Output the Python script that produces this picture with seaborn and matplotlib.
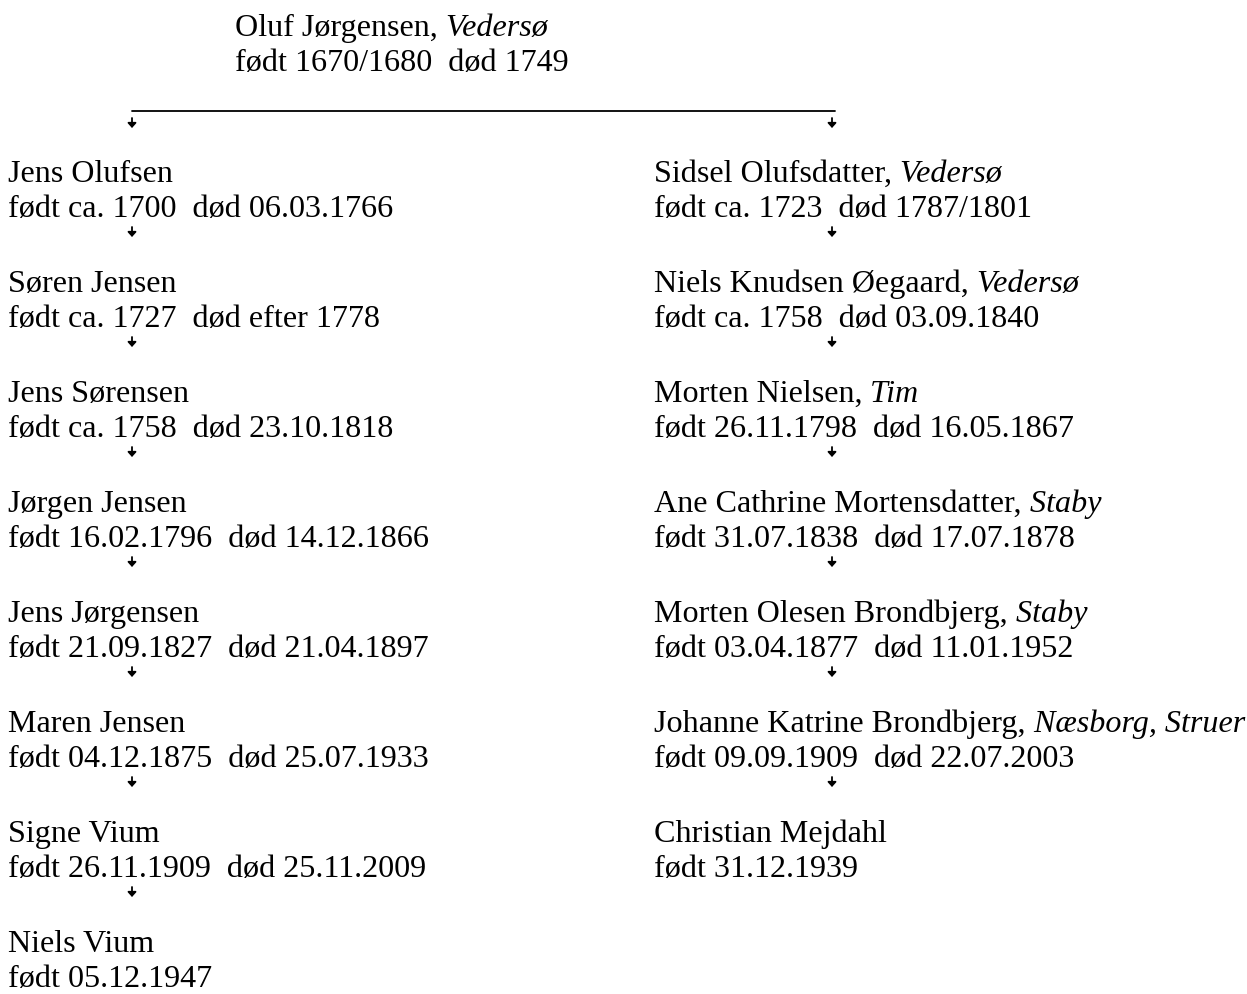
import matplotlib
matplotlib.use("Agg")
import matplotlib.pyplot as plt
import seaborn as sns
import pandas as pd

# ---- data ----
root_name = "Oluf Jørgensen"
root_place = "Vedersø"
root_dates = "født 1670/1680  død 1749"

left_names = ["Jens Olufsen", "Søren Jensen", "Jens Sørensen", "Jørgen Jensen",
              "Jens Jørgensen", "Maren Jensen", "Signe Vium", "Niels Vium"]
left_places = ["", "", "", "", "", "", "", ""]
left_dates = ["født ca. 1700  død 06.03.1766", "født ca. 1727  død efter 1778",
              "født ca. 1758  død 23.10.1818", "født 16.02.1796  død 14.12.1866",
              "født 21.09.1827  død 21.04.1897", "født 04.12.1875  død 25.07.1933",
              "født 26.11.1909  død 25.11.2009", "født 05.12.1947"]

right_names = ["Sidsel Olufsdatter", "Niels Knudsen Øegaard", "Morten Nielsen",
               "Ane Cathrine Mortensdatter", "Morten Olesen Brondbjerg",
               "Johanne Katrine Brondbjerg", "Christian Mejdahl"]
right_places = ["Vedersø", "Vedersø", "Tim", "Staby", "Staby", "Næsborg, Struer", ""]
right_dates = ["født ca. 1723  død 1787/1801", "født ca. 1758  død 03.09.1840",
               "født 26.11.1798  død 16.05.1867", "født 31.07.1838  død 17.07.1878",
               "født 03.04.1877  død 11.01.1952", "født 09.09.1909  død 22.07.2003",
               "født 31.12.1939"]

# ---- layout (pixel units) ----
W, H = 1247, 995
FS = 23.1
ROOT_X, ROOT_Y = 235, 36
LINE_GAP = 35
COL_X = [8, 654]
ARROW_X = [132, 832]
ROW0 = 182
ROW_STEP = 110.0
BAR_Y = 112
ARROW_LEN = 10

sns.set_theme(style="white")
plt.rcParams["font.family"] = ["Liberation Serif", "DejaVu Serif"]

fig = plt.figure(figsize=(W / 100, H / 100), dpi=100)
ax = fig.add_axes([0, 0, 1, 1])


def entry(x, y, name, place, dates):
    t = ax.text(x, y, name + ("," if place else ""), fontsize=FS, va="baseline",
                ha="left", color="black")
    if place:
        ax.annotate(" " + place, xy=(1, y), xycoords=(t, "data"), fontsize=FS,
                    fontstyle="italic", va="baseline", ha="left", color="black")
    ax.text(x, y + LINE_GAP, dates, fontsize=FS, va="baseline", ha="left",
            color="black")


def arrow(x, ytop):
    ax.annotate("", xy=(x, ytop + ARROW_LEN), xytext=(x, ytop),
                arrowprops=dict(arrowstyle="-|>,head_length=0.2,head_width=0.18",
                                color="black", lw=1.3, mutation_scale=14,
                                shrinkA=0, shrinkB=0))


bar = pd.DataFrame({"x": [ARROW_X[0], ARROW_X[1] + 3], "y": [BAR_Y, BAR_Y]})
sns.lineplot(data=bar, x="x", y="y", ax=ax, color="black", lw=1.3)
ax.set_xlim(0, W)
ax.set_ylim(H, 0)
ax.axis("off")

entry(ROOT_X, ROOT_Y, root_name, root_place, root_dates)
for ax_x in ARROW_X:
    arrow(ax_x, BAR_Y + 7)

for col, (names, places, dates) in enumerate([(left_names, left_places, left_dates),
                                               (right_names, right_places, right_dates)]):
    for i, (n, p, d) in enumerate(zip(names, places, dates)):
        y = ROW0 + i * ROW_STEP
        entry(COL_X[col], y, n, p, d)
        if i < len(names) - 1:
            arrow(ARROW_X[col], y + LINE_GAP + 11)

fig.savefig("out.png", dpi=100, facecolor="white")
